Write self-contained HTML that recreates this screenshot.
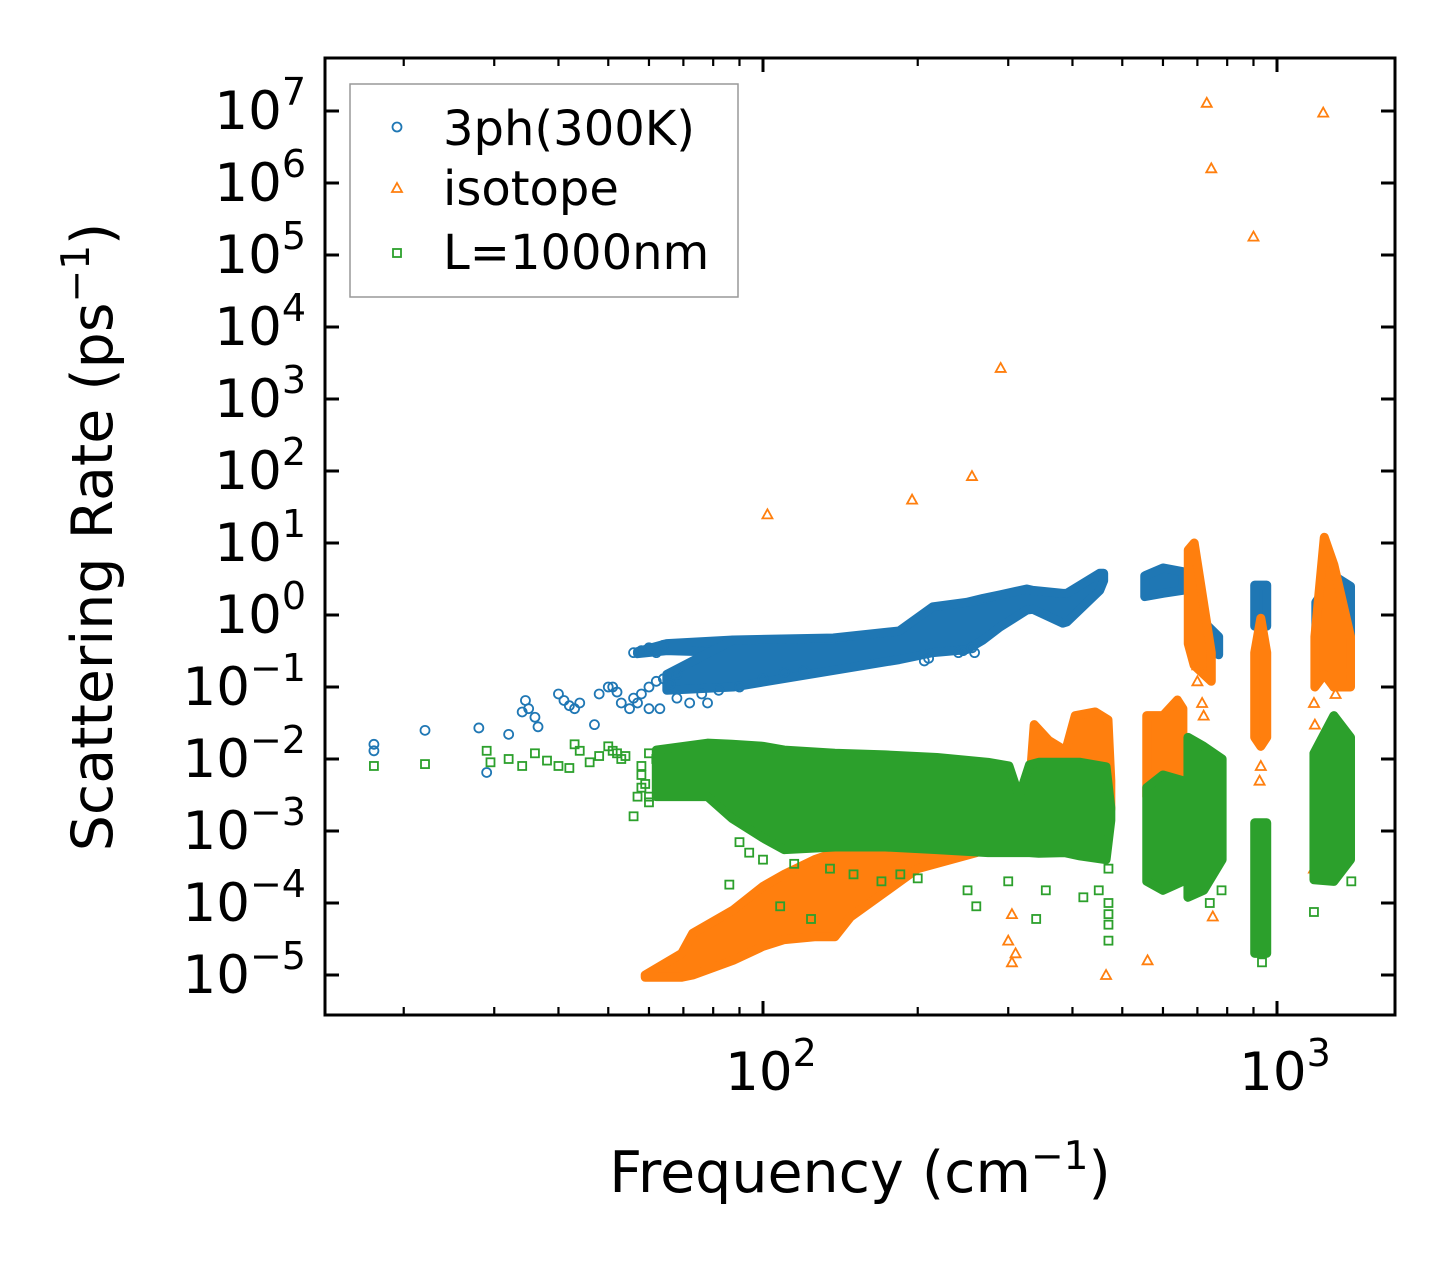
<!DOCTYPE html>
<html><head><meta charset="utf-8"><style>
body{margin:0;background:#fff}
svg{display:block;font-family:"DejaVu Sans","Liberation Sans",sans-serif}
</style></head><body>
<svg id="chart" width="1455" height="1265" viewBox="0 0 1455 1265" xmlns="http://www.w3.org/2000/svg">
<g id="marks"></g>
<rect x="325" y="58" width="1070" height="957" fill="none" stroke="#000" stroke-width="3"/>
<g id="axes"></g>
<text x="860" y="1192" font-size="57" text-anchor="middle">Frequency (cm<tspan dy="-23" font-size="39">−1</tspan><tspan dy="23">)</tspan></text>
<text transform="translate(112,537) rotate(-90)" font-size="57" text-anchor="middle">Scattering Rate (ps<tspan dy="-23" font-size="39">−1</tspan><tspan dy="23">)</tspan></text>
<g>
<rect x="350" y="84" width="388" height="213" fill="#fff" stroke="#999" stroke-width="1.5"/>
<circle cx="397" cy="127" r="4.5" fill="none" stroke="#1f77b4" stroke-width="1.8"/>
<text x="443" y="145" font-size="48">3ph(300K)</text>
<polygon points="397,183 402,192 392,192" fill="none" stroke="#ff7f0e" stroke-width="1.8"/>
<text x="443" y="205" font-size="48">isotope</text>
<rect x="393" y="249" width="8" height="8" fill="none" stroke="#2ca02c" stroke-width="1.8"/>
<text x="443" y="269" font-size="48">L=1000nm</text>
</g>
</svg>
<script>
const xTickValues=[100,1000];
const xTickLabels=["2","3"];
const yTickExps=[7,6,5,4,3,2,1,0,-1,-2,-3,-4,-5];
const yTickLabels=["7","6","5","4","3","2","1","0","−1","−2","−3","−4","−5"];
const xMinor=[20,30,40,50,60,70,80,90,200,300,400,500,600,700,800,900];

const blueUpFreq=[57,65,87.5];
const blueUpUpper=[0.31,0.4,0.45];
const blueUpLower=[0.29,0.32,0.3];
const blueMainFreq=[65,87.5,137,184,214,249,268,289,326,335,383,390,452,460];
const blueMainUpper=[0.15,0.45,0.48,0.6,1.3,1.5,1.7,1.9,2.3,2.2,2.0,2.0,3.8,3.8];
const blueMainLower=[0.09,0.1,0.17,0.24,0.3,0.33,0.45,0.68,1.17,1.2,0.77,0.8,2.2,3.0];
const blueC1Freq=[553,600,656];const blueC1Upper=[3.5,4.5,4];const blueC1Lower=[1.8,2,2.2];
const blueC2Freq=[675,720,770];const blueC2Upper=[0.6,0.8,0.5];const blueC2Lower=[0.4,0.4,0.28];
const blueC3Freq=[905,955];const blueC3Upper=[2.6,2.6];const blueC3Lower=[0.7,0.7];
const blueC4Freq=[1190,1290,1390];const blueC4Upper=[1.5,3.5,2.5];const blueC4Lower=[0.3,0.1,0.5];

const orangeLowFreq=[59,69.5,73,87.5,100,110,126,138,148,200,260];
const orangeLowUpper=[1e-5,2e-5,3.8e-5,8e-5,1.7e-4,2.5e-4,4e-4,5e-4,6e-4,8e-4,8e-4];
const orangeLowLower=[9.3e-6,9.3e-6,1e-5,1.6e-5,2.5e-5,3.1e-5,3.4e-5,3.4e-5,6.4e-5,3e-4,5e-4];
const orangeHighFreq=[330,337,360,388,405,443,469,475];
const orangeHighUpper=[0.004,0.03,0.018,0.013,0.04,0.045,0.035,0.005];
const orangeHighLower=[0.002,0.002,0.002,0.002,0.002,0.002,0.002,0.002];
const orangeC1Freq=[558,600,640,656];const orangeC1Upper=[0.04,0.04,0.066,0.05];const orangeC1Lower=[0.003,0.003,0.003,0.003];
const orangeC2Freq=[672,690,745];const orangeC2Upper=[8,10,0.3];const orangeC2Lower=[0.4,0.2,0.12];
const orangeC3Freq=[905,930,955];const orangeC3Upper=[0.3,0.9,0.3];const orangeC3Lower=[0.02,0.015,0.02];
const orangeC4Freq=[1185,1236,1290,1390];const orangeC4Upper=[0.5,12,5,0.5];const orangeC4Lower=[0.1,0.15,0.1,0.1];

const greenMainFreq=[62,78,87,100,110,138,173,218,274,301,315,330,344,387,414,465,475];
const greenMainUpper=[0.0133,0.0166,0.016,0.015,0.0133,0.012,0.0114,0.0105,0.009,0.008,0.003,0.0083,0.009,0.009,0.009,0.0078,0.0021];
const greenMainLower=[0.003,0.003,0.0015,0.0008,0.00055,0.0006,0.0006,0.00055,0.0005,0.0005,0.0005,0.0005,0.00049,0.0005,0.00045,0.0004,0.0014];
const greenC1Freq=[558,600,656];const greenC1Upper=[0.004,0.006,0.005];const greenC1Lower=[2e-4,1.5e-4,2e-4];
const greenC2Freq=[671,720,782];const greenC2Upper=[0.02,0.015,0.01];const greenC2Lower=[1.2e-4,1.5e-4,4e-4];
const greenC3Freq=[905,955];const greenC3Upper=[0.0013,0.0013];const greenC3Lower=[2e-5,2e-5];
const greenC4Freq=[1180,1290,1390];const greenC4Upper=[0.012,0.04,0.02];const greenC4Lower=[2.1e-4,2e-4,4e-4];

const bluePts=[[17.5,0.016],[17.5,0.013],[22,0.025],[28,0.027],[29,0.0065],[32,0.022],[34,0.045],[34.5,0.065],[35,0.05],[36,0.038],[36.5,0.028],[40,0.08],[41,0.065],[42,0.055],[43,0.05],[44,0.06],[47,0.03],[48,0.08],[50,0.1],[51,0.1],[52,0.085],[53,0.06],[55,0.05],
[56,0.3],[58,0.32],[60,0.35],[62,0.3],[64,0.38],[56,0.07],[57,0.06],[58,0.08],[60,0.1],[62,0.12],[64,0.13],[66,0.11],[68,0.15],[60,0.05],[63,0.05],[68,0.07],[72,0.06],[76,0.08],[78,0.06],[82,0.09],[90,0.1],[100,0.13],[110,0.16],[120,0.17],[206,0.23],[210,0.25],[240,0.3],[245,0.32],[255,0.35],[258,0.3]];

const orangePts=[[102,25],[195,40],[255,85],[290,2700],[730,1.3e7],[745,1.6e6],[900,1.8e5],[1230,9.5e6],
[300,3e-5],[305,1.5e-5],[310,2e-5],[305,7e-5],[465,1e-5],[560,1.6e-5],[750,6.5e-5],[700,0.12],[700,0.2],[715,0.06],[720,0.04],[930,0.008],[925,0.005],[1180,0.06],[1185,0.03],[1300,0.08],[1180,3e-4]];

const greenPts=[[17.5,0.008],[22,0.0085],[29,0.013],[29.5,0.009],[32,0.01],[34,0.008],[36,0.012],[38,0.0095],[40,0.008],[42,0.0075],[43,0.016],[44,0.013],[46,0.009],[48,0.011],[50,0.015],[51,0.013],[52,0.012],[53,0.01],[54,0.011],[56,0.0016],[57,0.003],[58,0.004],[58,0.008],[60,0.012],[62,0.01],[58,0.006],[59,0.0045],[60,0.003],[60,0.0025],
[86,0.00018],[90,0.0007],[94,0.0005],[108,9e-5],[124,6e-5],[100,0.0004],[115,0.00035],[135,0.0003],[150,0.00025],[170,0.0002],[185,0.00025],[200,0.00022],[250,0.00015],[260,9e-5],[300,0.0002],[340,6e-5],[355,0.00015],[420,0.00012],[450,0.00015],
[470,0.0003],[470,0.0001],[470,3e-5],[470,5e-5],[470,7e-5],[740,0.0001],[780,0.00015],[935,1.5e-5],[1180,7.5e-5],[1395,0.0002]];

const X0=763,XD=514,Y0=111,YD=72;
const sx=f=>X0+(Math.log10(f)-2)*XD;
const sy=r=>Y0+(7-Math.log10(r))*YD;
const NS="http://www.w3.org/2000/svg";
const marks=document.getElementById('marks');
const axes=document.getElementById('axes');
function mk(tag,attrs,parent){const e=document.createElementNS(NS,tag);for(const k in attrs)e.setAttribute(k,attrs[k]);parent.appendChild(e);return e;}

function band(freq,up,lo,color,name){
  const pts=freq.map((f,i)=>sx(f)+','+sy(up[i])).concat(freq.slice().reverse().map((f,i)=>sx(f)+','+sy(lo[freq.length-1-i])));
  const p=mk('polygon',{points:pts.join(' '),fill:color,stroke:color,'stroke-width':9,'stroke-linejoin':'round'},marks);
  
  
}
function pts(arr,shape,color,name){
  const g=mk('g',{fill:'none',stroke:color,'stroke-width':1.8},marks);
  
  
  arr.forEach(([f,r])=>{
    const x=sx(f),y=sy(r);let e;
    if(shape==='c')e=mk('circle',{cx:x,cy:y,r:4.5},g);
    else if(shape==='t')e=mk('polygon',{points:`${x},${y-5} ${x+5},${y+4} ${x-5},${y+4}`},g);
    else e=mk('rect',{x:x-4,y:y-4,width:8,height:8},g);
    
    
  });
}
const B='#1f77b4',O='#ff7f0e',G='#2ca02c';
band(blueUpFreq,blueUpUpper,blueUpLower,B,'band-3ph-upper');
band(blueMainFreq,blueMainUpper,blueMainLower,B,'band-3ph-main');
band(blueC1Freq,blueC1Upper,blueC1Lower,B,'cluster-3ph-600');
band(blueC2Freq,blueC2Upper,blueC2Lower,B,'cluster-3ph-700');
band(blueC3Freq,blueC3Upper,blueC3Lower,B,'cluster-3ph-900');
band(blueC4Freq,blueC4Upper,blueC4Lower,B,'cluster-3ph-1250');
pts(bluePts,'c',B,'series-3ph');
band(orangeLowFreq,orangeLowUpper,orangeLowLower,O,'band-isotope-low');
band(orangeHighFreq,orangeHighUpper,orangeHighLower,O,'band-isotope-high');
band(orangeC1Freq,orangeC1Upper,orangeC1Lower,O,'cluster-isotope-600');
band(orangeC2Freq,orangeC2Upper,orangeC2Lower,O,'cluster-isotope-700');
band(orangeC3Freq,orangeC3Upper,orangeC3Lower,O,'cluster-isotope-900');
band(orangeC4Freq,orangeC4Upper,orangeC4Lower,O,'cluster-isotope-1250');
pts(orangePts,'t',O,'series-isotope');
band(greenMainFreq,greenMainUpper,greenMainLower,G,'band-boundary');
band(greenC1Freq,greenC1Upper,greenC1Lower,G,'cluster-boundary-600');
band(greenC2Freq,greenC2Upper,greenC2Lower,G,'cluster-boundary-700');
band(greenC3Freq,greenC3Upper,greenC3Lower,G,'cluster-boundary-900');
band(greenC4Freq,greenC4Upper,greenC4Lower,G,'cluster-boundary-1250');
pts(greenPts,'s',G,'series-boundary');

yTickExps.forEach((e,i)=>{
  const y=Y0+(7-e)*YD;
  let t=mk('line',{x1:325,x2:339,y1:y,y2:y,stroke:'#000','stroke-width':3},axes);
  
  t=mk('line',{x1:1381,x2:1395,y1:y,y2:y,stroke:'#000','stroke-width':3},axes);
  
  const tx=mk('text',{x:306,y:y+18,'font-size':53,'text-anchor':'end'},axes);
  
  tx.innerHTML='10<tspan dy="-24" font-size="38">'+yTickLabels[i]+'</tspan>';
});
xTickValues.forEach((v,i)=>{
  const x=sx(v);
  let t=mk('line',{x1:x,x2:x,y1:1015,y2:1001,stroke:'#000','stroke-width':3},axes);
  
  t=mk('line',{x1:x,x2:x,y1:58,y2:72,stroke:'#000','stroke-width':3},axes);
  
  const tx=mk('text',{x:x+8,y:1090,'font-size':53,'text-anchor':'middle'},axes);
  
  tx.innerHTML='10<tspan dy="-24" font-size="38">'+xTickLabels[i]+'</tspan>';
});
xMinor.forEach(v=>{
  const x=sx(v);
  let t=mk('line',{x1:x,x2:x,y1:1015,y2:1007,stroke:'#000','stroke-width':2.2},axes);
  
  t=mk('line',{x1:x,x2:x,y1:58,y2:66,stroke:'#000','stroke-width':2.2},axes);
  
});
</script>
</body></html>
